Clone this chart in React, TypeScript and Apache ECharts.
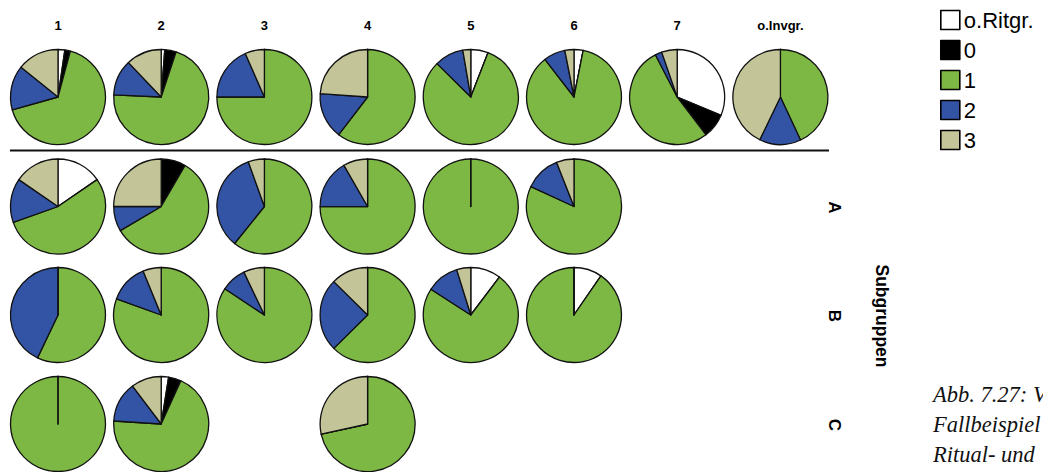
import React, { useEffect, useRef } from "react";
import * as echarts from "echarts";

const categories = ["o.Ritgr.", "0", "1", "2", "3"];
const colors = ["#ffffff", "#000000", "#7cb843", "#3353a4", "#c3c599"];
const columnLabels = ["1", "2", "3", "4", "5", "6", "7", "o.Invgr."];
const rowLabels = ["A", "B", "C"];
const groupTitle = "Subgruppen";
const captionLines = ["Abb. 7.27: V", "Fallbeispiel", "Ritual- und"];

// values per pie: [o.Ritgr., 0, 1, 2, 3] in percent; null = no pie
const totalRow: (number[] | null)[] = [
  [2.3, 1.9, 66.4, 15.2, 14.2],
  [1.2, 3.9, 70.6, 12.2, 12.1],
  [0, 0, 75, 18.4, 6.6],
  [0, 0, 60.4, 15.7, 23.9],
  [5.9, 0, 81.5, 9.9, 2.7],
  [3.1, 0, 86.4, 7.4, 3.1],
  [31.3, 8.4, 52.8, 2.3, 5.3],
  [0, 0, 43, 14.1, 42.8],
];
const subgroupA: (number[] | null)[] = [
  [15.4, 0, 54.1, 15, 15.4],
  [0, 8.4, 58.1, 8.5, 25],
  [0, 0, 60.8, 33.7, 5.5],
  [0, 0, 75, 16.8, 8.3],
  [0, 0, 100, 0, 0],
  [0, 0, 81.9, 12.1, 6],
  null,
  null,
];
const subgroupB: (number[] | null)[] = [
  [0, 0, 57.1, 42.9, 0],
  [0, 0, 80.3, 13.2, 6.2],
  [0, 0, 84.3, 8.6, 7.1],
  [0, 0, 62.6, 24.8, 12.6],
  [10.3, 0, 73.9, 11.1, 4.8],
  [9.6, 0, 90.4, 0, 0],
  null,
  null,
];
const subgroupC: (number[] | null)[] = [
  [0, 0, 100, 0, 0],
  [2.5, 4.3, 69.2, 13.7, 10.3],
  null,
  [0, 0, 71.6, 0, 28.4],
  null,
  null,
  null,
  null,
];

const rowsData = [totalRow, subgroupA, subgroupB, subgroupC];

// layout
const COL_X0 = 58;
const COL_STEP = 103.2;
const ROW_Y = [97, 206.5, 315, 424];
const RADIUS = 47.5;
const FONT = "'Liberation Sans', Arial, sans-serif";

export default function App() {
  const ref = useRef<HTMLDivElement>(null);
  useEffect(() => {
    if (!ref.current) return;
    const chart = echarts.init(ref.current, undefined, { renderer: "svg" });

    const series: any[] = [];
    rowsData.forEach((row, ri) => {
      row.forEach((vals, ci) => {
        if (!vals) return;
        series.push({
          type: "pie",
          name: `r${ri}c${ci}`,
          center: [COL_X0 + ci * COL_STEP, ROW_Y[ri]],
          radius: [0, RADIUS],
          startAngle: 90,
          clockwise: true,
          silent: true,
          label: { show: false },
          labelLine: { show: false },
          emphasis: { disabled: true },
          itemStyle: { borderColor: "#111", borderWidth: 1.3 },
          data: categories.map((c, k) => ({
            name: c,
            value: vals[k],
            itemStyle: { color: colors[k] },
          })),
        });
      });
    });

    const graphic: any[] = [];
    columnLabels.forEach((t, ci) => {
      graphic.push({
        type: "text",
        x: COL_X0 + ci * COL_STEP,
        y: 25,
        style: {
          text: t,
          font: `bold 13px ${FONT}`,
          fill: "#000",
          textAlign: "center",
          textVerticalAlign: "middle",
        },
      });
    });
    graphic.push({
      type: "line",
      shape: { x1: 10, y1: 150.5, x2: 829, y2: 150.5 },
      style: { stroke: "#111", lineWidth: 2 },
    });
    rowLabels.forEach((t, i) => {
      graphic.push({
        type: "text",
        x: 834,
        y: ROW_Y[i + 1] + 1,
        rotation: -Math.PI / 2,
        style: {
          text: t,
          font: `bold 17px ${FONT}`,
          fill: "#000",
          textAlign: "center",
          textVerticalAlign: "middle",
        },
      });
    });
    graphic.push({
      type: "text",
      x: 882,
      y: 316,
      rotation: -Math.PI / 2,
      style: {
        text: groupTitle,
        font: `bold 17.5px ${FONT}`,
        fill: "#000",
        textAlign: "center",
        textVerticalAlign: "middle",
      },
    });
    captionLines.forEach((t, i) => {
      graphic.push({
        type: "text",
        x: 933,
        y: 394 + i * 30,
        style: {
          text: t,
          font: `italic 22.5px 'Liberation Serif', 'DejaVu Serif', serif`,
          fill: "#111",
          textAlign: "left",
          textVerticalAlign: "middle",
        },
      });
    });

    chart.setOption({
      animation: false,
      textStyle: { fontFamily: FONT },
      legend: {
        orient: "vertical",
        left: 940,
        top: 9,
        padding: 0,
        itemWidth: 19,
        itemHeight: 19,
        itemGap: 8,
        icon: "rect",
        selectedMode: false,
        data: categories,
        itemStyle: { borderColor: "#000", borderWidth: 1.6 },
        textStyle: { fontSize: 22, color: "#000", fontFamily: FONT, padding: [0, 0, 0, -1] },
      },
      series,
      graphic,
    });
    return () => chart.dispose();
  }, []);
  return (
    <div
      ref={ref}
      style={{ position: "fixed", left: 0, top: 0, width: 1043, height: 472, background: "#fff" }}
    />
  );
}
